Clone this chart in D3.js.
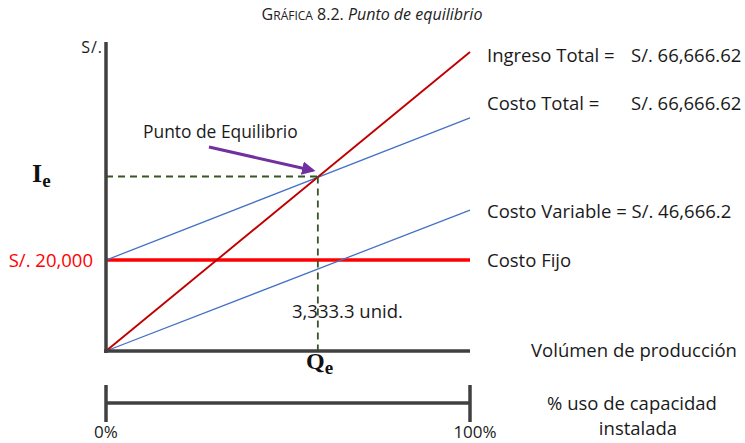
<!DOCTYPE html>
<html><head><meta charset="utf-8">
<script src="https://cdn.jsdelivr.net/npm/d3@7"></script>
<style>body{margin:0;background:#fff}svg{display:block}text{font-family:"Open Sans",sans-serif;fill:#1a1a1a}</style>
</head><body><svg id="c" width="745" height="443"></svg>
<script>
// data (chart units: x = % of installed capacity, y = S/.)
const xEnds = [0, 100];
const ingresoTotal = [0, 65800];
const costoTotal = [20000, 51300];
const costoVariable = [0, 31000];
const costoFijo = [20000, 20000];
const equilibrio = {x: 58.2, y: 38400};
const rightLabels = [
  {label: "Ingreso Total =", value: "S/. 66,666.62", yb: 62},
  {label: "Costo Total =", value: "S/. 66,666.62", yb: 110},
  {label: "Costo Variable = S/. 46,666.2", value: "", yb: 218},
  {label: "Costo Fijo", value: "", yb: 267}
];
const pctTicks = ["0%", "100%"];

const svg = d3.select("#c");
const x = d3.scaleLinear().domain([0, 100]).range([106, 470]);
const y = d3.scaleLinear().domain([0, 68000]).range([351, 42]);

// Title
const t = svg.append("text").attr("x", 372).attr("y", 20).attr("text-anchor", "middle").style("font-size", "16px").style("fill", "#222");
t.append("tspan").text("G");
t.append("tspan").style("font-size", "12px").text("RÁFICA");
t.append("tspan").text(" 8.2. ");
t.append("tspan").style("font-style", "italic").text("Punto de equilibrio");

// lines
const line = d3.line().x(d => x(d[0])).y(d => y(d[1]));
function draw(vals, color, w) {
  svg.append("path").attr("d", line(xEnds.map((xx, i) => [xx, vals[i]])))
    .attr("stroke", color).attr("stroke-width", w).attr("fill", "none");
}
draw(costoFijo, "#ff0000", 3.5);
draw(costoTotal, "#4472c4", 1.3);
draw(costoVariable, "#4472c4", 1.3);
draw(ingresoTotal, "#c00000", 1.9);

// dashed equilibrium guides
const dash = {stroke: "#375623", w: 1.8, da: "7,5"};
svg.append("path").attr("d", line([[0, equilibrio.y], [equilibrio.x, equilibrio.y]]))
  .attr("stroke", dash.stroke).attr("stroke-width", dash.w).attr("stroke-dasharray", dash.da).attr("fill", "none");
svg.append("path").attr("d", line([[equilibrio.x, equilibrio.y], [equilibrio.x, 0]]))
  .attr("stroke", dash.stroke).attr("stroke-width", dash.w).attr("stroke-dasharray", dash.da).attr("fill", "none");

// axes
svg.append("line").attr("x1", x(0)).attr("x2", x(0)).attr("y1", 42).attr("y2", 353)
  .attr("stroke", "#404040").attr("stroke-width", 3.5);
svg.append("line").attr("x1", x(0) - 2).attr("x2", x(100)).attr("y1", y(0)).attr("y2", y(0))
  .attr("stroke", "#404040").attr("stroke-width", 3.5);

// arrow
svg.append("defs").append("marker").attr("id", "ah").attr("viewBox", "0 0 10 10")
  .attr("refX", 8).attr("refY", 5).attr("markerWidth", 4.5).attr("markerHeight", 4.5)
  .attr("orient", "auto").attr("markerUnits", "strokeWidth")
  .append("path").attr("d", "M0,0 L10,5 L0,10 z").attr("fill", "#7030a0");
svg.append("line").attr("x1", 209).attr("y1", 147).attr("x2", x(equilibrio.x) - 5).attr("y2", y(equilibrio.y) - 6)
  .attr("stroke", "#7030a0").attr("stroke-width", 3).attr("marker-end", "url(#ah)");

// texts
svg.append("text").attr("x", 103).attr("y", 53).attr("text-anchor", "end").style("font-size", "16px").style("letter-spacing", "1px").text("S/.");
const ie = svg.append("text").attr("x", 32).attr("y", 182).style("font-family", "'Liberation Serif',serif").style("font-weight", "bold").style("font-size", "26px").style("fill", "#111");
ie.append("tspan").text("I");
ie.append("tspan").attr("dy", 5).style("font-size", "19px").text("e");
svg.append("text").attr("x", 93).attr("y", 267).attr("text-anchor", "end").style("font-size", "18.5px").style("fill", "#ff0000").text("S/. 20,000");
svg.append("text").attr("x", 143).attr("y", 138).style("font-size", "17.4px").text("Punto de Equilibrio");
svg.append("text").attr("x", 292).attr("y", 318).style("font-size", "18.5px").text("3,333.3 unid.");
const qe = svg.append("text").attr("x", 306).attr("y", 369).style("font-family", "'Liberation Serif',serif").style("font-weight", "bold").style("font-size", "24px").style("fill", "#111");
qe.append("tspan").text("Q");
qe.append("tspan").attr("dy", 5).style("font-size", "19px").text("e");

const rl = svg.selectAll("g.rl").data(rightLabels).enter().append("g").attr("class", "rl");
rl.append("text").attr("x", 487).attr("y", d => d.yb).style("font-size", "18.5px").text(d => d.label);
rl.append("text").attr("x", 631).attr("y", d => d.yb).style("font-size", "18.5px").text(d => d.value);

svg.append("text").attr("x", 634).attr("y", 357).attr("text-anchor", "middle").style("font-size", "18.5px").text("Volúmen de producción");
svg.append("text").attr("x", 632).attr("y", 410).attr("text-anchor", "middle").style("font-size", "18.5px").text("% uso de capacidad");
svg.append("text").attr("x", 638).attr("y", 435).attr("text-anchor", "middle").style("font-size", "18.5px").text("instalada");

// capacity bar
svg.append("line").attr("x1", x(0)).attr("x2", x(100)).attr("y1", 403).attr("y2", 403).attr("stroke", "#404040").attr("stroke-width", 3.5);
svg.selectAll("line.tk").data(pctTicks).enter().append("line").attr("class", "tk")
  .attr("x1", (d, i) => x(xEnds[i])).attr("x2", (d, i) => x(xEnds[i])).attr("y1", 385).attr("y2", 422)
  .attr("stroke", "#404040").attr("stroke-width", 3.5);
svg.selectAll("text.tl").data(pctTicks).enter().append("text").attr("class", "tl")
  .attr("x", (d, i) => x(xEnds[i]) + i * 5).attr("y", 438).attr("text-anchor", "middle").style("font-size", "17px").text(d => d);
</script></body></html>
